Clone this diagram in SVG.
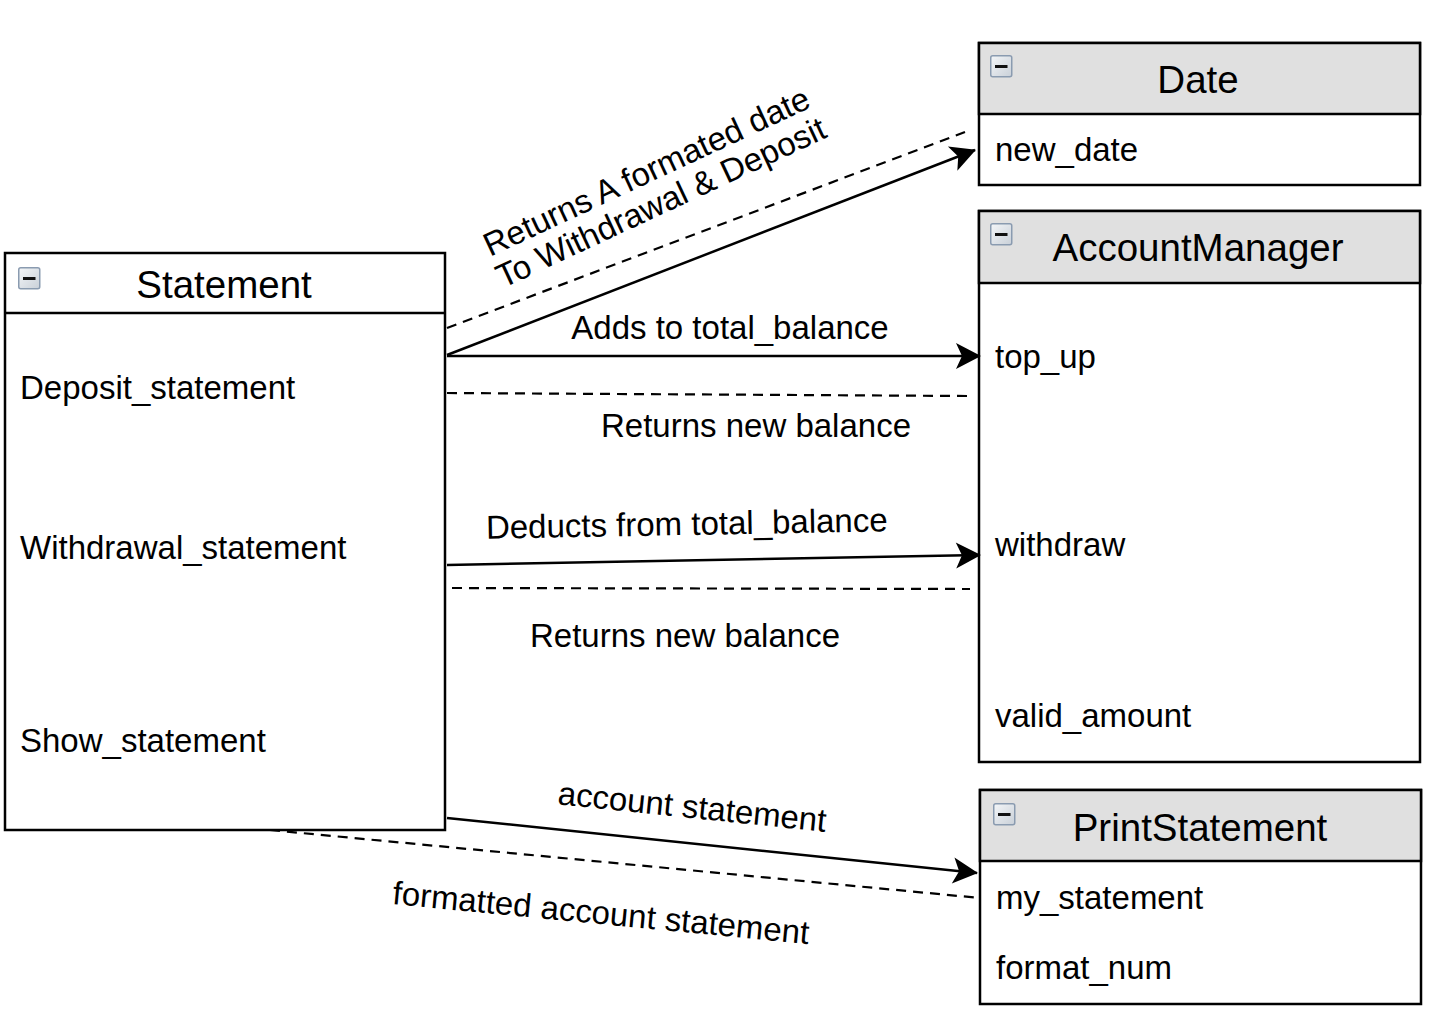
<svg xmlns="http://www.w3.org/2000/svg" width="1436" height="1028" viewBox="0 0 1436 1028">
<style>
.box{fill:#ffffff;stroke:#000;stroke-width:2.5}
.hdr{fill:#e0e0e0;stroke:#000;stroke-width:2.5}
.sep{stroke:#000;stroke-width:2.5}
.t{font-family:"Liberation Sans",Arial,Helvetica,sans-serif;fill:#000}
.title{font-size:38.5px;text-anchor:middle}
.item{font-size:33px}
.lbl{font-size:33px}
.solid{fill:none;stroke:#000;stroke-width:2.5}
.dash{fill:none;stroke:#000;stroke-width:2.2;stroke-dasharray:10 7}
</style>
<defs>
<linearGradient id="ig" x1="0" y1="0" x2="1" y2="1">
<stop offset="0" stop-color="#f4f6f8"/>
<stop offset="1" stop-color="#c9d0d8"/>
</linearGradient>
<g id="icon">
<rect x="0.75" y="0.75" width="21" height="21" rx="2" fill="url(#ig)" stroke="#8a9bb0" stroke-width="1.5"/>
<rect x="5" y="10" width="12.5" height="3" fill="#111"/>
</g>
<marker id="arr" markerUnits="userSpaceOnUse" markerWidth="32" markerHeight="32" viewBox="-2 -16 32 32" refX="24" refY="0" orient="auto">
<path d="M0,-13 L25,0 L0,13 L6,0 Z" fill="#000"/>
</marker>
</defs>
<rect width="1436" height="1028" fill="#ffffff"/>

<g id="Statement">
<rect class="box" x="5" y="253" width="440" height="577"/>
<line class="sep" x1="5" y1="313" x2="445" y2="313"/>
<use href="#icon" x="18" y="267"/>
<text class="t title" x="224" y="298">Statement</text>
<text class="t item" x="20" y="399">Deposit_statement</text>
<text class="t item" x="20" y="559">Withdrawal_statement</text>
<text class="t item" x="20" y="752">Show_statement</text>
</g>

<g id="Date">
<rect class="box" x="979" y="43" width="441" height="142"/>
<rect class="hdr" x="979" y="43" width="441" height="71"/>
<use href="#icon" x="990" y="55"/>
<text class="t title" x="1198" y="93">Date</text>
<text class="t item" x="995" y="161">new_date</text>
</g>

<g id="AccountManager">
<rect class="box" x="979" y="211" width="441" height="551"/>
<rect class="hdr" x="979" y="211" width="441" height="72"/>
<use href="#icon" x="990" y="223"/>
<text class="t title" x="1198" y="261">AccountManager</text>
<text class="t item" x="995" y="368">top_up</text>
<text class="t item" x="995" y="556">withdraw</text>
<text class="t item" x="995" y="727">valid_amount</text>
</g>

<g id="PrintStatement">
<rect class="box" x="980" y="790" width="441" height="214"/>
<rect class="hdr" x="980" y="790" width="441" height="71"/>
<use href="#icon" x="993" y="803"/>
<text class="t title" x="1200" y="841">PrintStatement</text>
<text class="t item" x="996" y="909">my_statement</text>
<text class="t item" x="996" y="979">format_num</text>
</g>

<g id="connectors">
<path class="dash" d="M447,328 L965,132"/>
<path class="solid" d="M447,355 L975,150" marker-end="url(#arr)"/>
<path class="solid" d="M447,356 L980,356" marker-end="url(#arr)"/>
<path class="dash" d="M447,393 L970,396"/>
<path class="solid" d="M447,565 L980,555" marker-end="url(#arr)"/>
<path class="dash" d="M452,588 L970,589"/>
<path class="solid" d="M447,818 L977,873" marker-end="url(#arr)"/>
<path class="dash" d="M270,830 L980,898"/>

<g transform="translate(655,190) rotate(-25)">
<text class="t lbl" x="0" y="-9" text-anchor="middle">Returns A formated date</text>
<text class="t lbl" x="0" y="25" text-anchor="middle">To Withdrawal &amp; Deposit</text>
</g>
<text class="t lbl" x="730" y="339" text-anchor="middle">Adds to total_balance</text>
<text class="t lbl" x="756" y="437" text-anchor="middle">Returns new balance</text>
<text class="t lbl" x="687" y="535" text-anchor="middle" transform="rotate(-1.07 687 535)">Deducts from total_balance</text>
<text class="t lbl" x="685" y="647" text-anchor="middle">Returns new balance</text>
<text class="t lbl" x="691" y="818" text-anchor="middle" transform="rotate(5.9 691 818)">account statement</text>
<text class="t lbl" x="600" y="924" text-anchor="middle" transform="rotate(5.5 600 924)">formatted account statement</text>
</g>
</svg>
